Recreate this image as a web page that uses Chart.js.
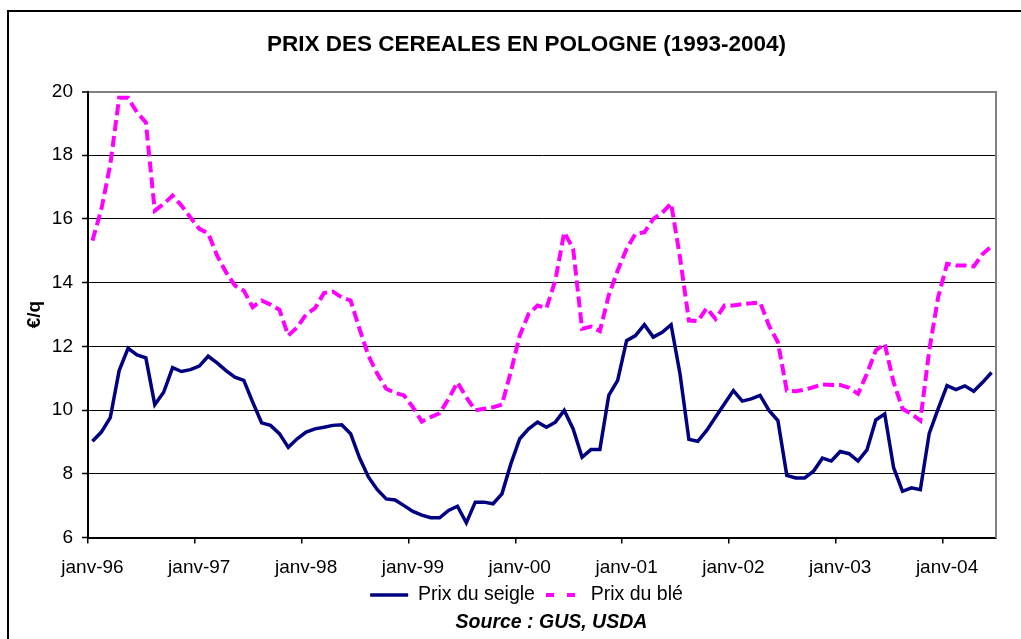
<!DOCTYPE html>
<html><head><meta charset="utf-8">
<script src="https://cdn.jsdelivr.net/npm/chart.js@4.4.1/dist/chart.umd.min.js"></script>
<style>
html,body{margin:0;padding:0;background:#fff;overflow:hidden;}
body{width:1021px;height:639px;position:relative;}
#frame{position:absolute;left:7px;top:10px;width:1100px;height:700px;border:2px solid #000;box-sizing:border-box;}
#wrap{position:absolute;left:0;top:0;width:1021px;height:639px;}
#source{position:absolute;left:0;width:1103px;top:610px;line-height:24px;text-align:center;color:#000;
  font:italic bold 19.5px "Liberation Sans", Arial, sans-serif;}
</style></head><body>
<div id="frame"></div>
<div id="wrap"><canvas id="c" width="1021" height="639"></canvas></div>
<div id="source">Source : GUS, USDA</div>
<script>
const months = ['janv','févr','mars','avr','mai','juin','juil','août','sept','oct','nov','déc'];
const years = ['96','97','98','99','00','01','02','03','04'];
const lastMonthIndex = 5; // juin-04
const categories = [];
years.forEach((y, yi) => months.forEach((m, mi) => {
  if (yi < years.length - 1 || mi <= lastMonthIndex) categories.push(m + '-' + y);
}));

const seigle = [
  9.02, 9.31, 9.76, 11.24, 11.94, 11.73, 11.64, 10.17, 10.56, 11.33, 11.21, 11.27,
  11.38, 11.69, 11.48, 11.24, 11.03, 10.93, 10.25, 9.60, 9.52, 9.26, 8.83, 9.10,
  9.31, 9.41, 9.46, 9.52, 9.54, 9.26, 8.50, 7.90, 7.50, 7.21, 7.18, 7.00,
  6.82, 6.70, 6.62, 6.62, 6.85, 6.98, 6.46, 7.11, 7.11, 7.06, 7.37, 8.31,
  9.10, 9.41, 9.62, 9.46, 9.62, 9.99, 9.41, 8.52, 8.76, 8.76, 10.46, 10.93,
  12.18, 12.34, 12.68, 12.29, 12.44, 12.68, 11.14, 9.08, 9.02, 9.36, 9.78, 10.20,
  10.61, 10.28, 10.35, 10.46, 9.99, 9.67, 7.95, 7.87, 7.87, 8.08, 8.49, 8.40,
  8.70, 8.63, 8.40, 8.75, 9.69, 9.88, 8.19, 7.45, 7.56, 7.50, 9.27, 10.04,
  10.77, 10.64, 10.76, 10.59, 10.87, 11.18
];
const ble = [
  15.32, 16.30, 17.70, 19.80, 19.80, 19.35, 19.03, 16.26, 16.47, 16.73, 16.42, 16.05,
  15.69, 15.55, 14.85, 14.33, 13.91, 13.75, 13.23, 13.44, 13.31, 13.15, 12.34, 12.60,
  13.00, 13.20, 13.67, 13.72, 13.54, 13.44, 12.55, 11.71, 11.14, 10.67, 10.54, 10.46,
  10.09, 9.64, 9.78, 9.90, 10.35, 10.87, 10.40, 9.99, 10.04, 10.09, 10.17, 11.20,
  12.34, 13.02, 13.28, 13.20, 14.07, 15.58, 15.06, 12.55, 12.62, 12.48, 13.60, 14.38,
  15.06, 15.53, 15.58, 16.00, 16.19, 16.49, 14.80, 12.81, 12.79, 13.20, 12.86, 13.28,
  13.28, 13.33, 13.35, 13.38, 12.65, 12.13, 10.61, 10.59, 10.64, 10.72, 10.80, 10.79,
  10.79, 10.70, 10.51, 11.14, 11.87, 12.08, 10.87, 10.04, 9.88, 9.67, 11.87, 13.54,
  14.59, 14.54, 14.54, 14.51, 14.90, 15.15
];
const yTicks = { min: 6, max: 20, step: 2 };
const titleText = 'PRIX DES CEREALES EN POLOGNE (1993-2004)';
const yTitle = '€/q';
const seriesNames = ['Prix du seigle', 'Prix du blé'];

const FONT = '"Liberation Sans", Arial, sans-serif';
Chart.defaults.font.family = FONT;
Chart.defaults.color = '#000';

new Chart(document.getElementById('c'), {
  type: 'line',
  data: {
    labels: categories,
    datasets: [
      { label: seriesNames[0], data: seigle, borderColor: '#000080', backgroundColor: '#000080',
        borderWidth: 3.5, pointRadius: 0, tension: 0, fill: false },
      { label: seriesNames[1], data: ble, borderColor: '#FF00FF', backgroundColor: '#FF00FF',
        borderWidth: 4, borderDash: [11, 5], pointRadius: 0, tension: 0, fill: false }
    ]
  },
  options: {
    responsive: false, animation: false, devicePixelRatio: 1,
    layout: { padding: { left: 44, right: 12, top: 0, bottom: 24.25 } },
    plugins: {
      title: { display: true, text: titleText, color: '#000',
        font: { family: FONT, size: 22.5, weight: 'bold' }, padding: { top: 30.8, bottom: 33.7 } },
      legend: {
        position: 'bottom',
        labels: {
          usePointStyle: true, pointStyle: 'line', pointStyleWidth: 38, padding: 8, color: '#000',
          font: { family: FONT, size: 19.5 },
          generateLabels: (chart) => {
            const items = Chart.defaults.plugins.legend.labels.generateLabels(chart);
            if (items[1]) { items[1].lineDash = [8, 13]; items[1].lineDashOffset = 18; }
            return items;
          }
        }
      },
      tooltip: { enabled: false }
    },
    scales: {
      x: {
        type: 'category', offset: true,
        grid: { offset: true, drawOnChartArea: false, drawTicks: true, tickLength: 6, lineWidth: 1.5,
          color: (c) => (c.index !== undefined && c.index % 12 === 0) ? '#000' : 'rgba(0,0,0,0)' },
        border: { color: '#000', width: 2 },
        ticks: { autoSkip: false, maxRotation: 0, minRotation: 0, padding: 13, color: '#000',
          font: { family: FONT, size: 19 },
          callback: (v, i) => (i % 12 === 0 ? categories[i] : '') },
        afterFit: (s) => { s.height = 39.75; }
      },
      y: {
        min: yTicks.min, max: yTicks.max,
        ticks: { stepSize: yTicks.step, padding: 9, color: '#000', font: { family: FONT, size: 19 } },
        grid: { drawTicks: true, tickLength: 6, tickColor: '#000', tickWidth: 1.5,
          color: (c) => (c.tick && c.tick.value === yTicks.max) ? '#808080' : '#000',
          lineWidth: (c) => (c.tick && c.tick.value === yTicks.max) ? 2 : 1 },
        border: { color: '#000', width: 2 },
        title: { display: true, text: yTitle, color: '#000',
          font: { family: FONT, size: 19, weight: 'bold' }, padding: { top: -20.4, bottom: 0 } },
        afterFit: (s) => { s.width = 44; }
      },
      y2: {
        position: 'right', min: yTicks.min, max: yTicks.max,
        ticks: { display: false },
        grid: { drawOnChartArea: false, drawTicks: false },
        border: { display: true, color: '#808080', width: 2 },
        afterFit: (s) => { s.width = 13; }
      }
    }
  }
});
</script>
</body></html>
